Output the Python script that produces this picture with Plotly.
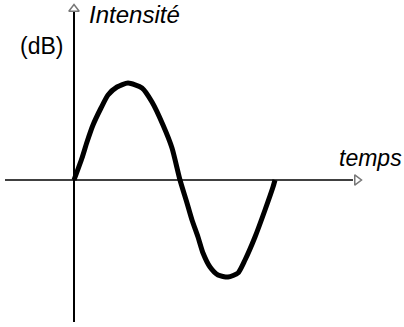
import plotly.graph_objects as go

# points (temps, intensité)
temps = [0, 0.08, 0.13, 0.19, 0.27, 0.34, 0.43, 0.54, 0.68, 0.78, 0.89, 0.98, 1.06,
         1.13, 1.18, 1.24, 1.29, 1.36, 1.44, 1.54, 1.64, 1.71, 1.81, 1.91, 1.99, 2.01]
intensite = [0, 0.22, 0.38, 0.55, 0.72, 0.85, 0.93, 0.97, 0.92, 0.78, 0.55, 0.32, 0,
             -0.23, -0.40, -0.57, -0.73, -0.87, -0.95, -0.97, -0.93, -0.80, -0.57, -0.30, -0.07, 0]

# axis extents (temps / intensité units)
x_axis = [-0.69, 2.79]
y_axis = [-1.42, 1.68]

fig = go.Figure()

# axes lines
fig.add_trace(go.Scatter(x=x_axis, y=[0, 0], mode="lines",
                         line=dict(color="black", width=1.6),
                         showlegend=False, hoverinfo="skip"))
fig.add_trace(go.Scatter(x=[0, 0], y=y_axis, mode="lines",
                         line=dict(color="black", width=2),
                         showlegend=False, hoverinfo="skip"))

# small hollow arrow heads
fig.add_trace(go.Scatter(x=[0], y=[1.71], mode="markers", cliponaxis=False,
                         marker=dict(symbol="triangle-up-open", size=9, color="#777",
                                     line=dict(width=1.5)),
                         showlegend=False, hoverinfo="skip"))
fig.add_trace(go.Scatter(x=[2.83], y=[0], mode="markers", cliponaxis=False,
                         marker=dict(symbol="triangle-right-open", size=9, color="#777",
                                     line=dict(width=1.5)),
                         showlegend=False, hoverinfo="skip"))

# the curve
fig.add_trace(go.Scatter(
    x=temps, y=intensite,
    mode="lines",
    line=dict(color="black", width=5, shape="spline", smoothing=0.6),
    showlegend=False, hoverinfo="skip",
))

font = dict(family="Liberation Sans, Arial, sans-serif", size=23, color="black")

fig.add_annotation(x=0.13, y=1.66, text="<i>Intensité</i>", showarrow=False,
                   xanchor="left", yanchor="middle", font=dict(font, size=24))
fig.add_annotation(x=-0.09, y=1.34, text="(dB)", showarrow=False,
                   xanchor="right", yanchor="middle", font=font)
fig.add_annotation(x=3.30, y=0.22, text="<i>temps</i>", showarrow=False,
                   xanchor="right", yanchor="middle", font=font)

fig.update_xaxes(visible=False, range=[-0.74, 3.30])
fig.update_yaxes(visible=False, range=[-1.47, 1.80])
fig.update_layout(
    width=404, height=327,
    margin=dict(l=0, r=0, t=0, b=0),
    plot_bgcolor="white", paper_bgcolor="white",
)

fig.write_html("out.html", config={"displayModeBar": False},
               post_script="document.body.style.margin='0';")
